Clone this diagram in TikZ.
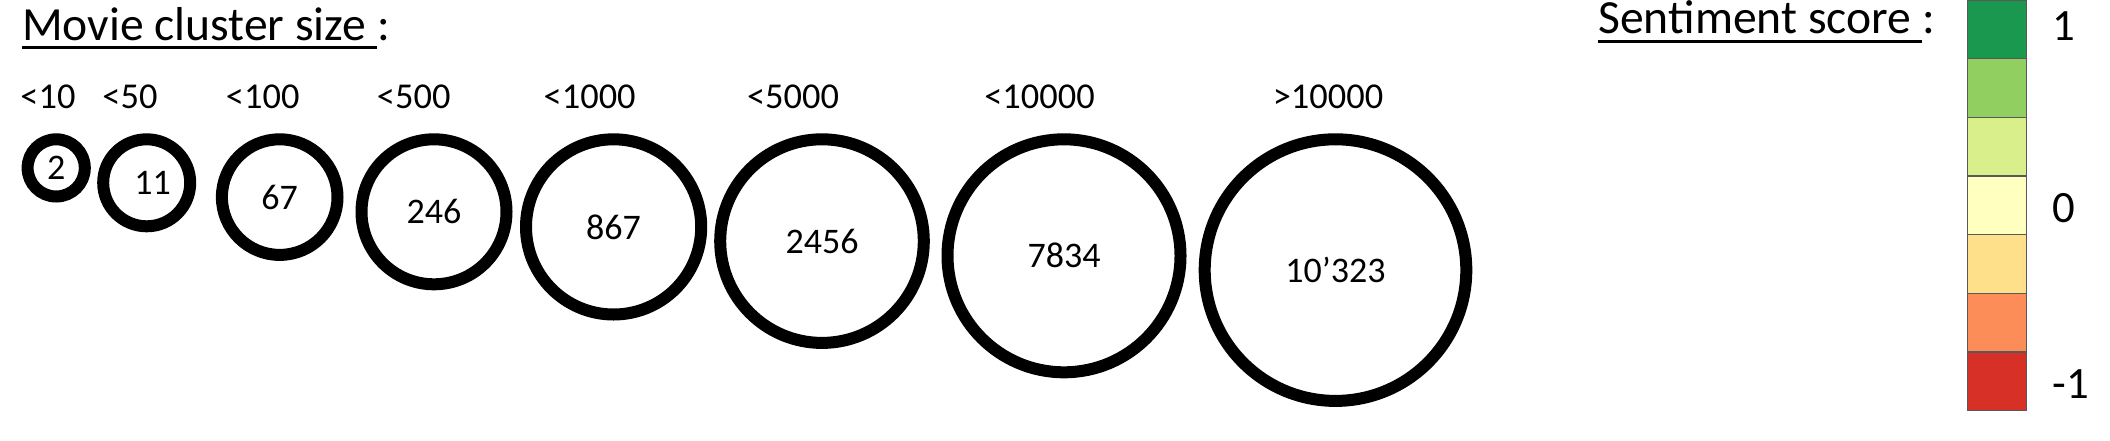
\documentclass[tikz,border=0pt]{standalone}
\usepackage{fontspec}
\setmainfont{Carlito}
\usetikzlibrary{positioning}
\definecolor{scoreA}{HTML}{1A9850}
\definecolor{scoreB}{HTML}{91CF60}
\definecolor{scoreC}{HTML}{D9EF8B}
\definecolor{scoreD}{HTML}{FFFFBF}
\definecolor{scoreE}{HTML}{FEE08B}
\definecolor{scoreF}{HTML}{FC8D59}
\definecolor{scoreG}{HTML}{D73027}
\begin{document}
\begin{tikzpicture}[x=0.5pt,y=-0.5pt,
  ring/.style={circle,draw=black,line width=6pt,inner sep=0pt,font=\fontsize{18}{18}\selectfont},
  sizelabel/.style={anchor=base,inner sep=0pt,font=\fontsize{18.2}{18}\selectfont},
  heading/.style={anchor=base west,inner sep=0pt,font=\fontsize{23.8}{24}\selectfont},
  scorebox/.style={draw=black!65,line width=0.75pt,minimum width=29.5pt,minimum height=29.33pt,inner sep=0pt,outer sep=0pt},
  scorelabel/.style={anchor=base west,inner sep=0pt,font=\fontsize{22.4}{22}\selectfont}]
\useasboundingbox (0,0) rectangle (2110,440);
\node[heading] (movtxt) at (21.7,40) {Movie cluster size\ \mbox{}};
\node[heading] (movcolon) at (movtxt.base east) {:};
\draw[line width=1.5pt] ([yshift=-3.85pt]movtxt.base west) -- ([yshift=-3.85pt]movtxt.base east);
\node[sizelabel] (lab10) at (48,108.3) {<10};
\node[sizelabel] (lab50) at (130,108.3) {<50};
\node[sizelabel] (lab100) at (262.7,108.3) {<100};
\node[sizelabel] (lab500) at (413.7,108.3) {<500};
\node[sizelabel] (lab1000) at (589.7,108.3) {<1000};
\node[sizelabel] (lab5000) at (793,108.3) {<5000};
\node[sizelabel] (lab10000) at (1039.5,108.3) {<10000};
\node[sizelabel] (labmore) at (1328,108.3) {>10000};
\node[ring,minimum size=28.6pt] (c2) at (56.2,167.9) {2};
\node[ring,minimum size=43.5pt] (c11) at (146.7,182.8) {\hspace{6pt}11};
\node[ring,minimum size=57.8pt] (c67) at (279.7,197.1) {67};
\node[ring,minimum size=72.5pt] (c246) at (434,211.8) {246};
\node[ring,minimum size=87.6pt] (c867) at (613.6,226.9) {867};
\node[ring,minimum size=101.8pt] (c2456) at (822,241.1) {2456};
\node[ring,minimum size=116.5pt] (c7834) at (1064,255.8) {7834};
\node[ring,minimum size=130.8pt] (c10323) at (1335.5,270.1) {10’323};
\node[heading] (senttxt) at (1598,33.3) {Sentiment score\ \mbox{}};
\node[heading] (sentcolon) at (senttxt.base east) {:};
\draw[line width=1.5pt] ([yshift=-4.2pt]senttxt.base west) -- ([yshift=-4.2pt]senttxt.base east);
\node[scorebox,fill=scoreA,anchor=north west] (s1) at (1967.5,0) {};
\node[scorebox,fill=scoreB,below=0pt of s1] (s2) {};
\node[scorebox,fill=scoreC,below=0pt of s2] (s3) {};
\node[scorebox,fill=scoreD,below=0pt of s3] (s4) {};
\node[scorebox,fill=scoreE,below=0pt of s4] (s5) {};
\node[scorebox,fill=scoreF,below=0pt of s5] (s6) {};
\node[scorebox,fill=scoreG,below=0pt of s6] (s7) {};
\node[scorelabel] (top) at (2052,40.7) {1};
\node[scorelabel] (mid) at (2052,222.3) {0};
\node[scorelabel] (bot) at (2052,398.3) {-1};
\end{tikzpicture}
\end{document}
